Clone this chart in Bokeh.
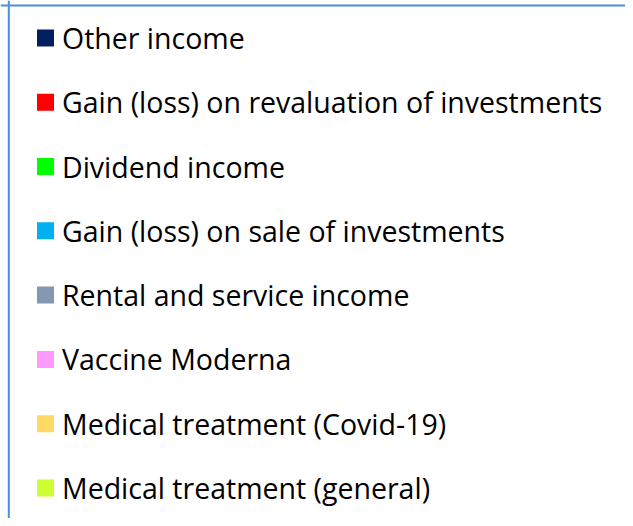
from bokeh.plotting import figure
from bokeh.models import Range1d, ColumnDataSource, Span
from bokeh.core.properties import value
from bokeh.embed import file_html
from bokeh.resources import INLINE

labels = [
    "Other income",
    "Gain (loss) on revaluation of investments",
    "Dividend income",
    "Gain (loss) on sale of investments",
    "Rental and service income",
    "Vaccine Moderna",
    "Medical treatment (Covid-19)",
    "Medical treatment (general)",
]
colors = ["#002060", "#FF0000", "#00FF00", "#00B0F0", "#8497B0", "#FF99FF", "#FFD966", "#CCFF33"]

rows = list(range(len(labels)))
W, H = 625, 518
y0, y7 = 37.4, 487.5
step = (y7 - y0) / 7
src = ColumnDataSource(dict(y=rows, label=labels, color=colors,
                            sx=[45.0] * len(rows), tx=[61.5] * len(rows)))

p = figure(width=W, height=H, output_backend="svg", toolbar_location=None,
           x_range=Range1d(0, W), y_range=Range1d(7 + (H - y7) / step, -y0 / step),
           min_border=0)
p.axis.visible = False
p.grid.visible = False
p.outline_line_color = None
p.background_fill_color = "white"
p.border_fill_color = "white"

p.rect(x="sx", y="y", width=17, height=17 / step, fill_color="color", line_color=None, source=src)
p.text(x="tx", y="y", text="label", text_font=value("Open Sans"), text_font_size="28.5px",
       text_baseline="middle", text_align="left", text_color="#000000", source=src)

p.add_layout(Span(location=p.y_range.end + 5 / step, dimension="width", line_color="#4A90E2", line_width=2))
p.add_layout(Span(location=8.3, dimension="height", line_color="#4A90E2", line_width=2))

open("out.html", "w").write(file_html(p, INLINE))
